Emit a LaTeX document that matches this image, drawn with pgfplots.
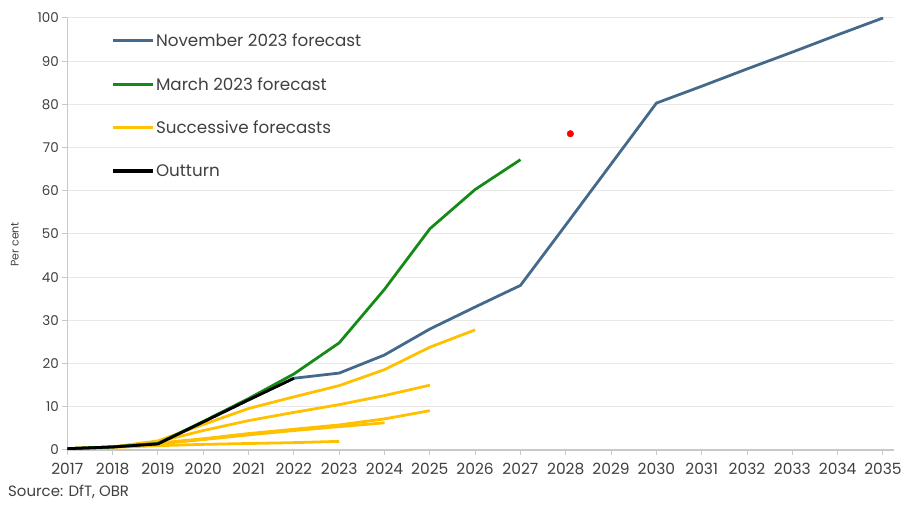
\documentclass[border=0pt]{standalone}
\usepackage{fontspec}
\setmainfont{Poppins}
\usepackage{pgfplots}
\pgfplotsset{compat=1.18}
\definecolor{novblue}{HTML}{44698A}
\definecolor{margreen}{HTML}{168A16}
\definecolor{succyel}{HTML}{FFC000}
\definecolor{gridgray}{HTML}{E8E8E8}
\definecolor{axgray}{HTML}{C8C8C8}
\definecolor{txt}{HTML}{404040}
\begin{document}
\begin{tikzpicture}
\begin{axis}[
  scale only axis, width=829.5pt, height=433.3pt,
  xmin=2017, xmax=2035.25, ymin=0, ymax=100,
  xtick={2017,...,2035}, ytick={0,10,...,100},
  axis x line*=bottom, axis y line*=left,
  axis line style={draw=axgray, line width=1.2pt, -},
  tick style={draw=axgray, line width=1pt},
  tick align=outside, major tick length=5pt,
  ymajorgrids, grid style={draw=gridgray, line width=1pt},
  x tick label style={font=\fontsize{15.5}{15.5}\selectfont, text=txt, yshift=-5pt},
  y tick label style={font=\fontsize{13.5}{13.5}\selectfont, text=txt},
  /pgf/number format/assume math mode=true,
  /pgf/number format/1000 sep={},
  ylabel={Per cent},
  ylabel style={at={(axis description cs:-0.0633,0.476)}, anchor=center, font=\fontsize{11}{11}\selectfont, text=txt},
  legend style={at={(axis description cs:0.0495,0.972)}, anchor=north west, draw=none, fill=none,
    font=\fontsize{16.8}{16.8}\selectfont, text=txt, row sep=26.3pt, nodes={inner sep=1.5pt}},
  legend cell align=left,
  legend image code/.code={\draw[#1] (0pt,0pt) -- (40pt,0pt);},
  every axis plot/.append style={line width=2.8pt, line join=round},
]
% successive forecasts
\addplot[succyel, forget plot] coordinates {(2017,0.3) (2018,0.7) (2019,2.1) (2020,5.9) (2021,9.6) (2022,12.3) (2023,14.9) (2024,18.6) (2025,23.8) (2026,27.8)};
\addplot[succyel, forget plot] coordinates {(2017,0.3) (2018,0.7) (2019,1.9) (2020,4.5) (2021,6.8) (2022,8.7) (2023,10.5) (2024,12.6) (2025,15.0)};
\addplot[succyel, forget plot] coordinates {(2017,0.3) (2018,0.7) (2019,1.6) (2020,2.6) (2021,3.8) (2022,4.8) (2023,5.8) (2024,7.2) (2025,9.1)};
\addplot[succyel, forget plot] coordinates {(2017,0.3) (2018,0.7) (2019,1.4) (2020,2.4) (2021,3.5) (2022,4.5) (2023,5.4) (2024,6.3)};
\addplot[succyel, forget plot] coordinates {(2017,0.3) (2018,0.6) (2019,1.0) (2020,1.3) (2021,1.5) (2022,1.7) (2023,2.0)};
% November 2023 forecast
\addplot[novblue, forget plot] coordinates {(2017,0.3) (2018,0.7) (2019,1.5) (2020,6.5) (2021,11.6) (2022,16.6) (2023,17.8) (2024,22.0) (2025,28.0) (2026,33.1) (2027,38.1) (2028,52.1) (2029,66.2) (2030,80.3) (2031,84.2) (2032,88.2) (2033,92.1) (2034,96.1) (2035,100.0)};
% March 2023 forecast
\addplot[margreen, forget plot] coordinates {(2017,0.3) (2018,0.7) (2019,1.5) (2020,6.6) (2021,11.9) (2022,17.6) (2023,24.8) (2024,37.2) (2025,51.2) (2026,60.3) (2027,67.2)};
% Outturn
\addplot[black, forget plot] coordinates {(2017,0.3) (2018,0.7) (2019,1.4) (2020,6.5) (2021,11.6) (2022,16.6)};
% single point
\addplot[only marks, mark=*, mark size=3.3pt, color=red, mark options={line width=0.4pt, draw=red, fill=red}, forget plot] coordinates {(2028.1,73.2)};
\addlegendimage{novblue, line width=3.2pt}
\addlegendentry{November 2023 forecast}
\addlegendimage{margreen, line width=3.2pt}
\addlegendentry{March 2023 forecast}
\addlegendimage{succyel, line width=3.2pt}
\addlegendentry{Successive forecasts}
\addlegendimage{black, line width=3.2pt}
\addlegendentry{Outturn}
\end{axis}
\node[anchor=west, font=\fontsize{15}{15}\selectfont, text=txt, inner sep=0pt] at (-59.5pt,-41.7pt) {Source: DfT, OBR};
\path[use as bounding box] (-67.5pt,-54.7pt) rectangle (837.5pt,451.3pt);
\end{tikzpicture}
\end{document}
